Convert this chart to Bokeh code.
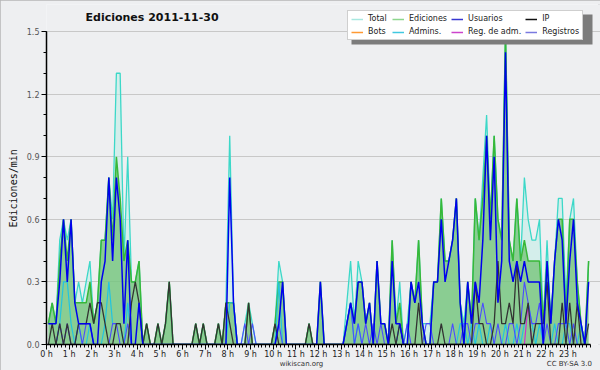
from bokeh.plotting import figure
from bokeh.models import (Range1d, FixedTicker, Legend, LegendItem, LinearAxis,
                          PrintfTickFormatter, Label, Title, BoxAnnotation)
from bokeh.embed import file_html
from bokeh.resources import INLINE

# ---- data: 10-minute bins, edits per minute ----
minutos = list(range(5, 1440, 10))          # bin centres (minutes)
horas_eje = list(range(0, 24))               # labelled hour ticks
etiquetas_horas = [f"{h} h" for h in horas_eje]
y_ticks = [0, 0.3, 0.6, 0.9, 1.2, 1.5]

total = [
    0.1, 0.2, 0.1, 0.5, 0.6, 0.5,   0.6, 0.2, 0.3, 0.2, 0.3, 0.4,
    0.1, 0.2, 0.5, 0.5, 0.8, 0.6,   1.3, 1.3, 0.4, 0.9, 0.3, 0.3,
    0.4, 0.0, 0.1, 0.0, 0.0, 0.1,   0.0, 0.1, 0.3, 0.0, 0.0, 0.0,
    0.0, 0.0, 0.0, 0.1, 0.0, 0.1,   0.0, 0.0, 0.0, 0.1, 0.0, 0.2,
    1.0, 0.2, 0.0, 0.0, 0.1, 0.2,   0.1, 0.0, 0.0, 0.0, 0.0, 0.0,
    0.1, 0.4, 0.3, 0.0, 0.0, 0.0,   0.0, 0.0, 0.0, 0.1, 0.0, 0.0,
    0.3, 0.0, 0.0, 0.0, 0.0, 0.0,   0.0, 0.2, 0.4, 0.1, 0.4, 0.3,
    0.1, 0.2, 0.0, 0.4, 0.1, 0.1,   0.0, 0.5, 0.1, 0.3, 0.0, 0.1,
    0.3, 0.2, 0.5, 0.1, 0.1, 0.1,   0.3, 0.3, 0.7, 0.4, 0.4, 0.5,
    0.7, 0.2, 0.1, 0.3, 0.1, 0.7,   0.5, 0.8, 1.1, 0.6, 1.0, 0.6,
    0.5, 1.5, 0.5, 0.4, 0.7, 0.4,   0.8, 0.6, 0.5, 0.5, 0.6, 0.1,
    0.5, 0.1, 0.4, 0.7, 0.7, 0.2,   0.6, 0.7, 0.3, 0.1, 0.0, 0.4,
]
ediciones = [
    0.1, 0.2, 0.1, 0.4, 0.6, 0.4,   0.6, 0.2, 0.2, 0.2, 0.2, 0.3,
    0.1, 0.2, 0.5, 0.5, 0.8, 0.5,   0.9, 0.7, 0.4, 0.5, 0.3, 0.3,
    0.4, 0.0, 0.1, 0.0, 0.0, 0.1,   0.0, 0.1, 0.3, 0.0, 0.0, 0.0,
    0.0, 0.0, 0.0, 0.1, 0.0, 0.1,   0.0, 0.0, 0.0, 0.1, 0.0, 0.2,
    0.2, 0.2, 0.0, 0.0, 0.0, 0.2,   0.0, 0.0, 0.0, 0.0, 0.0, 0.0,
    0.1, 0.3, 0.3, 0.0, 0.0, 0.0,   0.0, 0.0, 0.0, 0.1, 0.0, 0.0,
    0.3, 0.0, 0.0, 0.0, 0.0, 0.0,   0.0, 0.1, 0.2, 0.1, 0.3, 0.3,
    0.1, 0.2, 0.0, 0.4, 0.1, 0.1,   0.0, 0.5, 0.1, 0.2, 0.0, 0.0,
    0.3, 0.2, 0.5, 0.1, 0.0, 0.0,   0.3, 0.3, 0.7, 0.4, 0.4, 0.5,
    0.7, 0.2, 0.0, 0.3, 0.1, 0.7,   0.5, 0.7, 1.0, 0.6, 1.0, 0.6,
    0.5, 1.5, 0.5, 0.4, 0.7, 0.4,   0.5, 0.4, 0.4, 0.4, 0.4, 0.1,
    0.4, 0.1, 0.4, 0.6, 0.6, 0.1,   0.6, 0.6, 0.3, 0.1, 0.0, 0.4,
]
usuarios = [
    0.1, 0.1, 0.1, 0.3, 0.6, 0.3,   0.6, 0.2, 0.1, 0.1, 0.1, 0.1,
    0.0, 0.0, 0.3, 0.4, 0.8, 0.4,   0.8, 0.6, 0.1, 0.5, 0.0, 0.0,
    0.2, 0.0, 0.0, 0.0, 0.0, 0.0,   0.0, 0.0, 0.0, 0.0, 0.0, 0.0,
    0.0, 0.0, 0.0, 0.0, 0.0, 0.0,   0.0, 0.0, 0.0, 0.0, 0.0, 0.0,
    0.8, 0.2, 0.0, 0.0, 0.0, 0.0,   0.0, 0.0, 0.0, 0.0, 0.0, 0.0,
    0.0, 0.1, 0.3, 0.0, 0.0, 0.0,   0.0, 0.0, 0.0, 0.0, 0.0, 0.0,
    0.3, 0.0, 0.0, 0.0, 0.0, 0.0,   0.0, 0.1, 0.2, 0.1, 0.3, 0.3,
    0.1, 0.2, 0.0, 0.4, 0.1, 0.1,   0.0, 0.4, 0.1, 0.1, 0.0, 0.0,
    0.3, 0.2, 0.3, 0.1, 0.0, 0.0,   0.3, 0.3, 0.6, 0.3, 0.4, 0.5,
    0.7, 0.2, 0.0, 0.3, 0.1, 0.3,   0.2, 0.5, 1.0, 0.5, 0.9, 0.2,
    0.4, 1.4, 0.4, 0.3, 0.4, 0.3,   0.4, 0.3, 0.3, 0.3, 0.3, 0.0,
    0.4, 0.1, 0.4, 0.6, 0.5, 0.1,   0.4, 0.6, 0.2, 0.1, 0.0, 0.3,
]
ip = [
    0.0, 0.1, 0.0, 0.1, 0.0, 0.1,   0.0, 0.0, 0.1, 0.1, 0.1, 0.2,
    0.1, 0.2, 0.2, 0.1, 0.0, 0.0,   0.1, 0.1, 0.0, 0.0, 0.2, 0.3,
    0.2, 0.0, 0.1, 0.0, 0.0, 0.1,   0.0, 0.1, 0.3, 0.0, 0.0, 0.0,
    0.0, 0.0, 0.0, 0.1, 0.0, 0.1,   0.0, 0.0, 0.0, 0.1, 0.0, 0.2,
    0.1, 0.0, 0.0, 0.0, 0.0, 0.2,   0.0, 0.0, 0.0, 0.0, 0.0, 0.0,
    0.1, 0.0, 0.0, 0.0, 0.0, 0.0,   0.0, 0.0, 0.0, 0.1, 0.0, 0.0,
    0.0, 0.0, 0.0, 0.0, 0.0, 0.0,   0.0, 0.0, 0.0, 0.0, 0.0, 0.0,
    0.0, 0.0, 0.0, 0.0, 0.0, 0.0,   0.0, 0.1, 0.0, 0.1, 0.0, 0.0,
    0.0, 0.0, 0.2, 0.0, 0.0, 0.0,   0.0, 0.0, 0.1, 0.0, 0.0, 0.0,
    0.0, 0.0, 0.0, 0.0, 0.0, 0.3,   0.1, 0.1, 0.0, 0.0, 0.1, 0.4,
    0.1, 0.1, 0.2, 0.1, 0.4, 0.1,   0.1, 0.2, 0.0, 0.1, 0.1, 0.1,
    0.3, 0.0, 0.0, 0.0, 0.2, 0.0,   0.2, 0.0, 0.2, 0.0, 0.0, 0.1,
]
bots = [0.0] * 144
admins = [
    0.0, 0.0, 0.0, 0.1, 0.3, 0.3,   0.1, 0.0, 0.1, 0.0, 0.0, 0.1,
    0.0, 0.0, 0.0, 0.1, 0.3, 0.1,   0.1, 0.1, 0.0, 0.2, 0.0, 0.0,
    0.0, 0.0, 0.0, 0.0, 0.0, 0.0,   0.0, 0.0, 0.0, 0.0, 0.0, 0.0,
    0.0, 0.0, 0.0, 0.0, 0.0, 0.0,   0.0, 0.0, 0.0, 0.0, 0.0, 0.0,
    0.2, 0.2, 0.0, 0.0, 0.0, 0.0,   0.0, 0.0, 0.0, 0.0, 0.0, 0.0,
    0.0, 0.3, 0.0, 0.0, 0.0, 0.0,   0.0, 0.0, 0.0, 0.0, 0.0, 0.0,
    0.0, 0.0, 0.0, 0.0, 0.0, 0.0,   0.0, 0.1, 0.2, 0.0, 0.1, 0.0,
    0.0, 0.0, 0.0, 0.0, 0.0, 0.0,   0.0, 0.0, 0.0, 0.1, 0.0, 0.0,
    0.0, 0.0, 0.0, 0.0, 0.0, 0.0,   0.0, 0.0, 0.0, 0.0, 0.0, 0.0,
    0.0, 0.1, 0.1, 0.0, 0.1, 0.0,   0.1, 0.0, 0.0, 0.1, 0.0, 0.0,
    0.0, 0.1, 0.0, 0.0, 0.1, 0.0,   0.1, 0.2, 0.1, 0.0, 0.1, 0.0,
    0.0, 0.0, 0.1, 0.0, 0.0, 0.1,   0.1, 0.0, 0.0, 0.1, 0.0, 0.0,
]
reg_adm = [0.0] * 127 + [0.2] + [0.0] * 16
registros = [
    0.0, 0.0, 0.0, 0.1, 0.0, 0.1,   0.0, 0.0, 0.1, 0.0, 0.1, 0.1,
    0.0, 0.0, 0.0, 0.0, 0.0, 0.1,   0.1, 0.0, 0.0, 0.1, 0.0, 0.0,
    0.0, 0.0, 0.0, 0.0, 0.0, 0.0,   0.0, 0.0, 0.0, 0.0, 0.0, 0.0,
    0.0, 0.0, 0.0, 0.0, 0.0, 0.0,   0.0, 0.0, 0.0, 0.0, 0.0, 0.0,
    0.0, 0.0, 0.0, 0.0, 0.1, 0.0,   0.1, 0.0, 0.0, 0.0, 0.0, 0.0,
    0.0, 0.1, 0.0, 0.0, 0.0, 0.0,   0.0, 0.0, 0.0, 0.0, 0.0, 0.0,
    0.0, 0.0, 0.0, 0.0, 0.0, 0.0,   0.0, 0.1, 0.2, 0.0, 0.1, 0.0,
    0.1, 0.0, 0.1, 0.0, 0.1, 0.0,   0.0, 0.0, 0.0, 0.1, 0.0, 0.1,
    0.0, 0.0, 0.0, 0.0, 0.1, 0.1,   0.0, 0.0, 0.0, 0.0, 0.0, 0.1,
    0.0, 0.0, 0.1, 0.1, 0.0, 0.1,   0.1, 0.2, 0.1, 0.1, 0.0, 0.1,
    0.0, 0.0, 0.1, 0.1, 0.0, 0.1,   0.3, 0.2, 0.1, 0.1, 0.2, 0.0,
    0.1, 0.0, 0.0, 0.1, 0.1, 0.1,   0.0, 0.1, 0.0, 0.0, 0.0, 0.0,
]

titulo = "Ediciones  2011-11-30"
eje_y_titulo = "Ediciones/min"
pie_textos = ["wikiscan.org", "CC BY-SA 3.0"]
pie_posiciones = [11.25, 23.07]

horas = [m / 60 for m in minutos]

BG = "#eeeff1"
FONT = "DejaVu Sans"

# ---- layout (pixels) ----
W, H = 600, 370
LEFT = 46
AXIS_RIGHT = 590                            # canvas x of 24 h
TOP = 4
BOTTOM_PANEL = 26
frame_bottom = H - BOTTOM_PANEL            # canvas y of the 0.0 line
LINE_15 = 31                                # canvas y of the 1.5 line
px_per_unit = (frame_bottom - LINE_15) / 1.5
px_per_hour = (AXIS_RIGHT - LEFT) / 24
y_top = (frame_bottom - TOP) / px_per_unit
x_end = (W - LEFT) / px_per_hour            # frame runs to the right edge

p = figure(width=W, height=H, output_backend="svg", toolbar_location=None,
           title_location=None,
           x_range=Range1d(0, x_end), y_range=Range1d(0, y_top),
           min_border_left=LEFT, min_border_right=0,
           min_border_top=TOP, min_border_bottom=BOTTOM_PANEL)
p.background_fill_color = BG
p.border_fill_color = BG
p.outline_line_color = None
# thin grey frame round the whole picture (outline does not change layout)
p.styles = {"outline": "2px solid #b6b6b6", "outline-offset": "-2px"}

# axes
xa = p.xaxis[0]
xa.bounds = (0, 24)
xa.ticker = FixedTicker(ticks=horas_eje, minor_ticks=[k / 6 for k in range(145)])
xa.major_label_overrides = {h: t for h, t in zip(horas_eje, etiquetas_horas)}
xa.major_label_text_font = FONT
xa.major_label_text_font_size = "8px"
xa.major_label_text_color = "#222222"
xa.major_label_standoff = 0
xa.major_tick_out = 5
xa.major_tick_in = 0
xa.minor_tick_out = 3
xa.minor_tick_in = 0
xa.axis_line_color = "black"
xa.axis_line_width = 1.5
xa.major_tick_line_color = "black"
xa.minor_tick_line_color = "black"

pie = LinearAxis(ticker=FixedTicker(ticks=pie_posiciones, minor_ticks=[]),
                 major_label_overrides={v: t for v, t in zip(pie_posiciones, pie_textos)},
                 axis_line_color=None, major_tick_line_color=None,
                 minor_tick_line_color=None, major_tick_out=0, major_tick_in=0,
                 minor_tick_out=0, minor_tick_in=0, major_label_standoff=-2,
                 major_label_text_font=FONT, major_label_text_font_size="7px",
                 major_label_text_color="#333333")
p.add_layout(pie, "below")

ya = p.yaxis[0]
ya.bounds = (0, 1.5)
ya.ticker = FixedTicker(ticks=y_ticks, minor_ticks=[k / 10 for k in range(16)])
ya.formatter = PrintfTickFormatter(format="%.1f")
ya.major_label_text_font = FONT
ya.major_label_text_font_size = "8px"
ya.major_label_text_color = "#555555"
ya.major_label_standoff = 2
ya.major_tick_out = 5
ya.major_tick_in = 0
ya.minor_tick_out = 3
ya.minor_tick_in = 0
ya.axis_line_color = "black"
ya.axis_line_width = 1.5

# y axis title as a side title, centred on the 0..1.5 span
p.add_layout(Title(text=eje_y_titulo, align="left", offset=(frame_bottom - 227),
                   text_font="DejaVu Sans Mono", text_font_size="10px",
                   text_font_style="normal", text_color="#111111", standoff=9),
             "left")

p.xgrid.visible = False
p.ygrid.ticker = FixedTicker(ticks=y_ticks[1:])
p.ygrid.bounds = (0, 24)
p.ygrid.grid_line_color = "#c8c8c8"
p.ygrid.grid_line_width = 1

# areas
p.varea(x=horas, y1=0, y2=total, fill_color="#bfece6", fill_alpha=0.55)
p.varea(x=horas, y1=0, y2=ediciones, fill_color="#5cb85c", fill_alpha=0.62)

# lines
p.line(horas, total, line_color="#3cd8c8", line_width=1.3)
p.line(horas, ediciones, line_color="#38b838", line_width=1.5)
p.line(horas, bots, line_color="#ff9900", line_width=1)
p.line(horas, admins, line_color="#22c4e0", line_width=1.2)
p.line(horas, reg_adm, line_color="#cc33cc", line_width=1.2)
p.line(horas, registros, line_color="#4b4bff", line_width=1.1)
p.line(horas, ip, line_color="#333333", line_width=1.3)
p.line(horas, usuarios, line_color="#0000ee", line_width=1.5)

# title (inside the stretched frame, above the 1.5 line)
p.add_layout(Label(x=85 - LEFT, y=frame_bottom - 16.5, x_units="screen", y_units="screen",
                   text=titulo, text_font=FONT, text_font_size="11px",
                   text_font_style="bold", text_color="#111111",
                   text_baseline="middle", text_align="left"))

# legend: swatches come from off-range proxy lines
nombres = ["Total", "Ediciones", "Usuarios", "IP",
           "Bots", "Admins.", "Reg. de adm.", "Registros"]
colores_leyenda = ["#a8e8e0", "#8ed68e", "#3838d0", "#111111",
                   "#ff9933", "#40c8e0", "#cc44cc", "#7a7ae0"]

items = []
for n, c in zip(nombres, colores_leyenda):
    r = p.line(x=[-3, -2], y=[0, 0], line_color=c, line_width=1.5)
    items.append(LegendItem(label=n, renderers=[r]))

# legend box in canvas pixels
LEG_L, LEG_T, LEG_W, LEG_H = 347, 10, 241, 30
LX, LY = LEG_L - LEFT, frame_bottom - (LEG_T + LEG_H)

# drop shadow, converted to data units
SH = 4
sombra = BoxAnnotation(left=(LEG_L + SH - LEFT) / px_per_hour,
                       right=(LEG_L + LEG_W + SH - LEFT) / px_per_hour,
                       top=(frame_bottom - (LEG_T + SH)) / px_per_unit,
                       bottom=(frame_bottom - (LEG_T + LEG_H + SH)) / px_per_unit,
                       fill_color="#7c7c7c", fill_alpha=1.0, line_color=None)
p.add_layout(sombra)

leyenda = Legend(items=items, orientation="horizontal", ncols=4, location=(LX, LY),
                 label_text_font=FONT, label_text_font_size="8px",
                 label_text_color="#222222",
                 glyph_width=12, glyph_height=8, label_standoff=5,
                 label_height=8, spacing=4, padding=3, margin=0,
                 background_fill_color="white", background_fill_alpha=1.0,
                 border_line_color="#a0a0a0", border_line_width=1)
p.add_layout(leyenda, "center")

open("out.html", "w").write(file_html(p, INLINE))
